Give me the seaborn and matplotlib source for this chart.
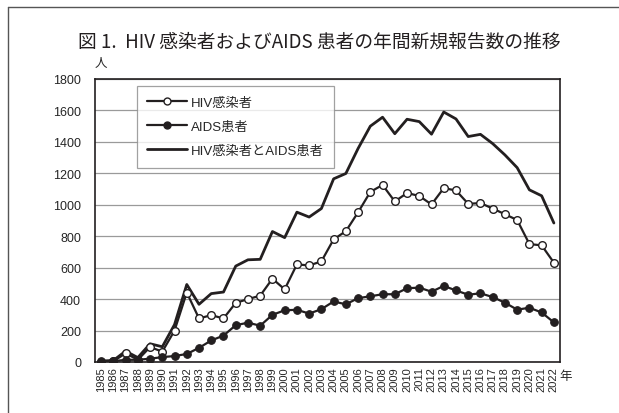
import matplotlib
matplotlib.use("Agg")
from matplotlib import pyplot as plt
from matplotlib.lines import Line2D
import pandas as pd
import seaborn as sns

# Annual new reports (persons)
years = list(range(1985, 2023))
hiv = [0, 5, 55, 14, 95, 66, 200, 442, 277, 298, 277, 376, 400, 422, 530, 462,
       621, 614, 640, 780, 832, 952, 1082, 1126, 1021, 1075, 1056, 1002, 1106,
       1091, 1006, 1011, 976, 940, 903, 750, 742, 632]
aids = [6, 5, 14, 14, 21, 31, 38, 51, 90, 137, 168, 234, 250, 231, 300, 329,
        332, 308, 336, 385, 367, 406, 418, 431, 431, 469, 473, 447, 484, 455,
        428, 437, 413, 377, 333, 345, 315, 252]
total = [h + a for h, a in zip(hiv, aids)]

labels = ["HIV感染者", "AIDS患者", "HIV感染者とAIDS患者"]
title = "図 1.  HIV 感染者およびAIDS 患者の年間新規報告数の推移"

df = pd.DataFrame({"year": years, labels[0]: hiv, labels[1]: aids, labels[2]: total})
df["pos"] = range(len(df))

sns.set_style("white")
plt.rcParams["font.family"] = ["Liberation Sans", "Noto Sans CJK JP"]

fig = plt.figure(figsize=(6.19, 4.14), dpi=100)
ax = fig.add_axes([95 / 619, 1 - 363 / 414, 465 / 619, 283 / 414])

lc = "#231f20"
sns.lineplot(data=df, x="pos", y=labels[2], ax=ax, color=lc, lw=2.0, zorder=3)
sns.lineplot(data=df, x="pos", y=labels[0], ax=ax, color=lc, lw=1.6, marker="o",
             markersize=5.5, markerfacecolor="white", markeredgecolor=lc,
             markeredgewidth=1.0, zorder=4)
sns.lineplot(data=df, x="pos", y=labels[1], ax=ax, color=lc, lw=1.6, marker="o",
             markersize=5.5, markerfacecolor=lc, markeredgecolor=lc, zorder=5)

ax.set_xlim(-0.5, len(years) - 0.5)
ax.set_ylim(0, 1800)
ax.set_yticks(range(0, 1801, 200))
ax.yaxis.grid(True, color="#9a9a9a", lw=0.9)
ax.set_axisbelow(True)
ax.set_xlabel("")
ax.set_ylabel("")
for s in ax.spines.values():
    s.set_color(lc)
    s.set_linewidth(1.2)

ax.set_xticks(df["pos"])
ax.set_xticklabels([str(y) for y in years], rotation=90, fontsize=8)
ax.tick_params(axis="x", length=0, pad=3)
# boundary ticks pointing inward
ax.set_xticks([p + 0.5 for p in df["pos"][:-1]], minor=True)
ax.tick_params(axis="x", which="minor", direction="in", length=4, color=lc, width=0.8)
ax.tick_params(axis="y", length=0, labelsize=9, pad=10)

handles = [
    Line2D([], [], color=lc, lw=1.6, marker="o", markersize=5, markerfacecolor="white",
           markeredgecolor=lc),
    Line2D([], [], color=lc, lw=1.6, marker="o", markersize=5, markerfacecolor=lc),
    Line2D([], [], color=lc, lw=2.0),
]
leg = ax.legend(handles, labels, loc="upper left", bbox_to_anchor=(0.09, 0.975),
                borderaxespad=0, frameon=True, fancybox=False, handlelength=3.0,
                labelspacing=0.9, borderpad=0.8, handletextpad=0.3,
                prop={"family": ["Liberation Sans", "Noto Sans CJK JP"], "size": 9.5})
leg.get_frame().set_edgecolor("#8a8a8a")
leg.get_frame().set_linewidth(0.9)

fig.text(78 / 619, 1 - 42 / 414, title, fontsize=13.5, va="center", ha="left",
         family=["Noto Sans CJK JP"], color="#231f20")
fig.text(101 / 619, 1 - 63 / 414, "人", fontsize=9, va="center", ha="center",
         family=["Noto Sans CJK JP"])
fig.text(566 / 619, 1 - 377 / 414, "年", fontsize=9, va="center", ha="center",
         family=["Noto Sans CJK JP"])

# page frame (top and left)
fig.add_artist(Line2D([8 / 619, 1.0], [1 - 8 / 414, 1 - 8 / 414], color="#555555",
                      lw=1.0, transform=fig.transFigure))
fig.add_artist(Line2D([8 / 619, 8 / 619], [1 - 8 / 414, 0], color="#555555",
                      lw=1.0, transform=fig.transFigure))

fig.savefig("out.png", dpi=100, facecolor="white")
